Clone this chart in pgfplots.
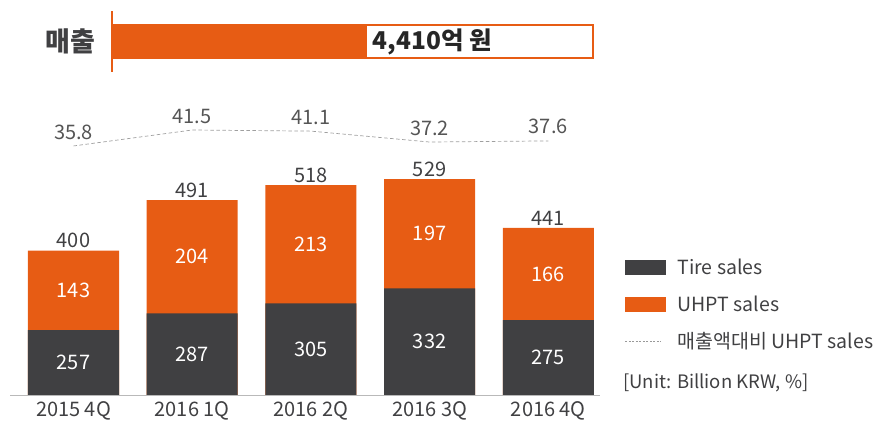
\documentclass[border=0pt]{standalone}
\usepackage{fontspec}
\setmainfont{Noto Sans CJK KR}
\usepackage{pgfplots}
\pgfplotsset{compat=1.18}
\definecolor{tdark}{RGB}{64,64,66}
\definecolor{torange}{RGB}{231,92,20}
\definecolor{lblgray}{RGB}{85,85,85}
\newcommand{\fs}[1]{\fontsize{#1bp}{#1bp}\selectfont}
\begin{document}
\begin{tikzpicture}
\useasboundingbox (0,0) rectangle (876bp,425bp);
% ---------- main stacked bars ----------
\begin{axis}[
  at={(10bp,30bp)}, anchor=south west,
  x=118.7bp, y=0.555bp,
  xmin=-0.535, xmax=4.435, ymin=140, ymax=600,
  axis x line*=bottom, axis y line=none,
  x axis line style={draw=gray!55, line width=0.8bp, -},
  xtick={0,1,2,3,4},
  xticklabels={2015 4Q,2016 1Q,2016 2Q,2016 3Q,2016 4Q},
  major tick length=0pt,
  xticklabel style={font=\fs{20}, text=tdark, yshift=-3bp},
  /pgf/number format/assume math mode=true,
  legend cell align=left,
  legend style={at={(1.042,0.543)}, anchor=north west, draw=none, fill=none,
    font=\fs{19.5}, text=tdark, inner sep=0pt, row sep=16bp,
    nodes={inner sep=2bp},
    /tikz/every odd column/.append style={column sep=10bp}},
]
% totals (orange) drawn first, tire (dark) on top
\addplot[ybar, bar width=0.767, bar shift=0pt, fill=torange, draw=none, forget plot,
  nodes near coords, point meta=y,
  nodes near coords style={font=\fs{20}, text=tdark, yshift=-1bp}]
  coordinates {(0,400) (1,491) (2,518) (3,529) (4,441)};
\addplot[ybar, bar width=0.767, bar shift=0pt, fill=tdark, draw=none, forget plot]
  coordinates {(0,257) (1,287) (2,305) (3,332) (4,275)};
% segment labels (tire)
\addplot[draw=none, mark=none, forget plot, nodes near coords, point meta=explicit symbolic,
  nodes near coords style={font=\fs{20}, text=white, anchor=center}]
  coordinates {(0,198.5)[257] (1,213.5)[287] (2,222.5)[305] (3,236)[332] (4,207.5)[275]};
% segment labels (UHPT)
\addplot[draw=none, mark=none, forget plot, nodes near coords, point meta=explicit symbolic,
  nodes near coords style={font=\fs{20}, text=white, anchor=center}]
  coordinates {(0,328.5)[143] (1,389)[204] (2,411.5)[213] (3,430.5)[197] (4,358)[166]};
% legend
\addlegendimage{legend image code/.code={\fill[tdark] (0bp,-7bp) rectangle (40bp,7bp);}}
\addlegendentry{Tire sales}
\addlegendimage{legend image code/.code={\fill[torange] (0bp,-7bp) rectangle (40bp,7bp);}}
\addlegendentry{UHPT sales}
\addlegendimage{legend image code/.code={\draw[gray!80, line width=0.7bp, dash pattern=on 2bp off 1.5bp] (0bp,0bp) -- (36bp,0bp);}}
\addlegendentry{매출액대비 UHPT sales}
\end{axis}
\node[anchor=west, font=\fs{18.5}, text=tdark, inner sep=0pt] at (623bp,42bp) {[Unit: Billion KRW, \%]};
% ---------- percentage line ----------
\begin{axis}[
  at={(10bp,262.8bp)}, anchor=south west,
  x=118.7bp, y=2.8bp,
  xmin=-0.535, xmax=4.435, ymin=30, ymax=45,
  hide axis, clip=false,
]
\addplot[gray!75, line width=0.7bp, dash pattern=on 3.5bp off 2.5bp, mark=none,
  nodes near coords={\pgfmathprintnumber[fixed,fixed zerofill,precision=1,assume math mode=true]{\pgfplotspointmeta}},
  point meta=y,
  nodes near coords style={font=\fs{20}, text=lblgray, yshift=3bp}]
  coordinates {(0,35.8) (1,41.5) (2,41.1) (3,37.2) (4,37.6)};
\end{axis}
% ---------- top sales banner ----------
\begin{axis}[
  at={(112bp,367bp)}, anchor=south west,
  x=481bp, y=33bp,
  xmin=0, xmax=1, ymin=-0.5, ymax=0.5,
  hide axis, clip=false,
]
\addplot[xbar, bar width=1, bar shift=0pt, fill=white, draw=torange, line width=1.2bp] coordinates {(1,0)};
\addplot[xbar, bar width=1, bar shift=0pt, fill=torange, draw=none] coordinates {(0.53,0)};
\draw[torange, line width=1.8bp] (axis cs:0,-0.92) -- (axis cs:0,0.92);
\node[anchor=west, font=\bfseries\fs{24.5}, text=black!85, inner sep=0pt] at (axis cs:0.542,0) {4,410억 원};
\node[anchor=east, font=\bfseries\fs{27}, text=tdark, inner sep=0pt] at (axis cs:-0.035,0) {매출};
\end{axis}
\end{tikzpicture}
\end{document}
